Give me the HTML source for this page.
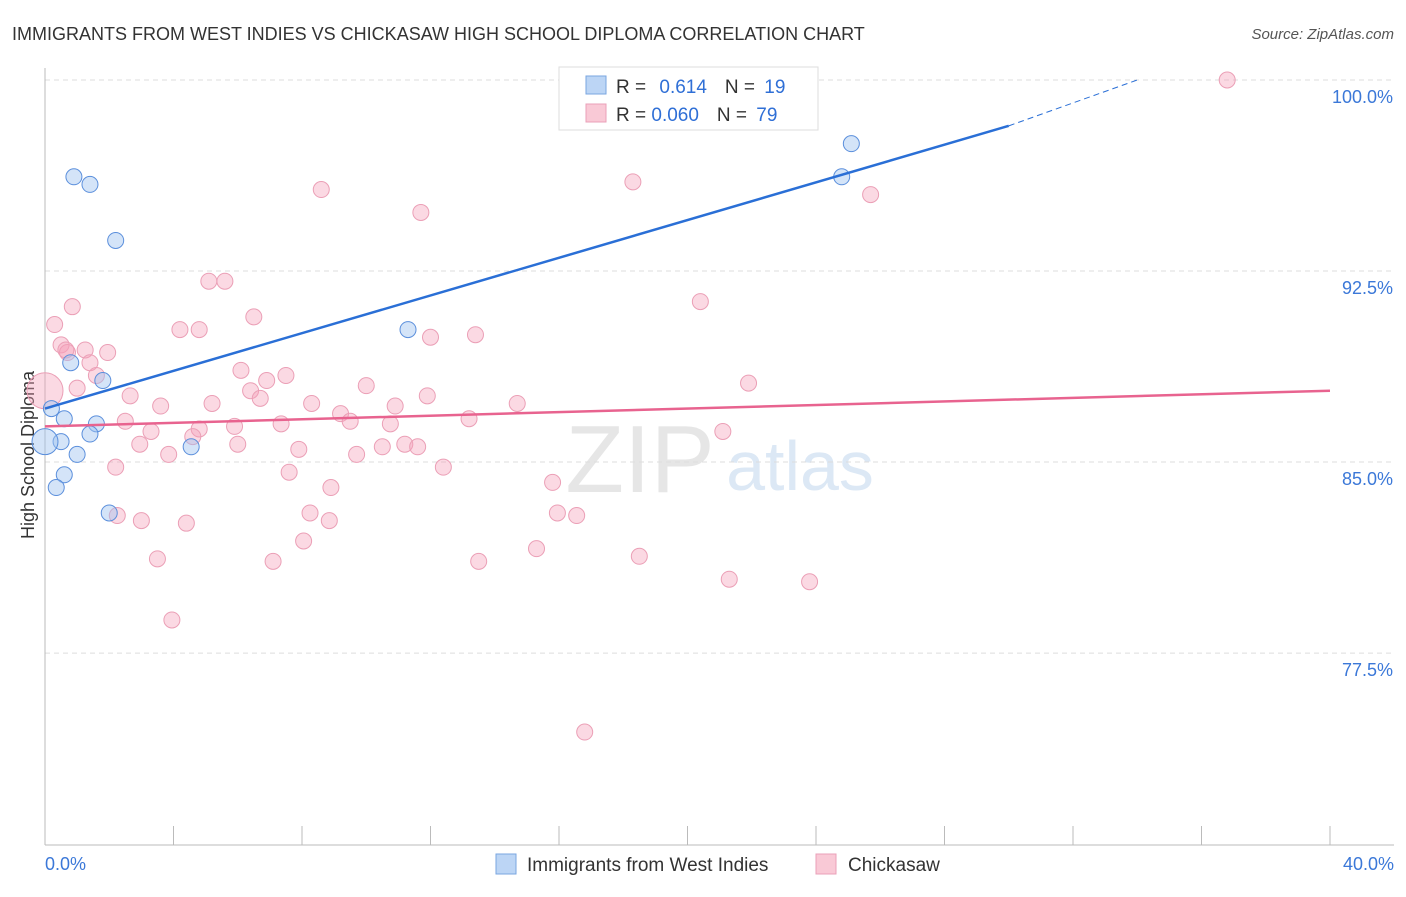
<!DOCTYPE html>
<html><head><meta charset="utf-8"><style>
body{margin:0;background:#fff;font-family:"Liberation Sans",sans-serif}
svg text{font-family:"Liberation Sans",sans-serif}
</style></head><body>
<svg id="c" width="1406" height="892">
<text x="12" y="40" font-size="18" fill="#333">IMMIGRANTS FROM WEST INDIES VS CHICKASAW HIGH SCHOOL DIPLOMA CORRELATION CHART</text>
<text x="1394" y="39" font-size="15" fill="#555" font-style="italic" text-anchor="end">Source: ZipAtlas.com</text>
<text x="640" y="492" font-size="96" fill="#e6e6e6" font-family="Liberation Serif" text-anchor="middle">ZIP</text>
<text x="800" y="490" font-size="70" fill="#dce8f5" text-anchor="middle">atlas</text>
<text transform="translate(34,455) rotate(-90)" font-size="18" fill="#333" text-anchor="middle">High School Diploma</text>
<g id="grid"></g><g id="pts"></g><g id="lines"></g>
<g>
<rect x="559" y="67" width="259" height="63" fill="#fff" stroke="#ddd"/>
<rect x="586" y="76" width="20" height="18" fill="#bcd5f5" stroke="#7aa6e0"/>
<rect x="586" y="104" width="20" height="18" fill="#f9c9d6" stroke="#eaa0b8"/>
<text x="616" y="93" font-size="19" fill="#333">R = <tspan fill="#2f6fd6" dx="8">0.614</tspan><tspan dx="18" fill="#333">N = </tspan><tspan fill="#2f6fd6" dx="4">19</tspan></text>
<text x="616" y="121" font-size="19" fill="#333">R = <tspan fill="#2f6fd6">0.060</tspan><tspan dx="18" fill="#333">N = </tspan><tspan fill="#2f6fd6" dx="4">79</tspan></text>
</g>
<g>
<rect x="496" y="854" width="20" height="20" fill="#bcd5f5" stroke="#7aa6e0"/>
<text x="527" y="871" font-size="19" fill="#333">Immigrants from West Indies</text>
<rect x="816" y="854" width="20" height="20" fill="#f9c9d6" stroke="#eaa0b8"/>
<text x="848" y="871" font-size="19" fill="#333">Chickasaw</text>
</g>
</svg>
<script>
const yTicks=[100,92.5,85,77.5];
const yTickLabels=["100.0%","92.5%","85.0%","77.5%"];
const blueX=[0.9,1.4,2.2,0.8,1.8,0.2,0.6,1.6,1.4,0.5,0.0,1.0,0.6,0.35,2.0,4.55,11.3,24.8,25.1];
const blueY=[96.2,95.9,93.7,88.9,88.2,87.1,86.7,86.5,86.1,85.8,85.8,85.3,84.5,84.0,83.0,85.6,90.2,96.2,97.5];
const pinkX=[36.8,8.6,11.7,18.3,25.7,5.1,5.6,0.85,0.3,6.5,4.2,4.8,20.4,12.0,13.4,0.5,1.25,0.7,1.95,1.4,6.1,1.6,7.5,6.9,1.0,6.4,10.0,11.9,2.65,21.9,6.7,5.2,3.6,8.3,10.9,14.7,2.5,7.35,9.2,9.5,13.2,5.9,10.75,3.3,4.8,4.6,21.1,2.95,6.0,7.9,10.5,11.2,11.6,3.85,9.7,2.2,12.4,7.6,8.9,15.8,2.25,3.0,8.25,15.95,16.55,4.4,8.85,8.05,15.3,3.5,7.1,13.5,18.5,21.3,23.8,3.95,16.8,0.0,0.65];
const pinkY=[100,95.7,94.8,96.0,95.5,92.1,92.1,91.1,90.4,90.7,90.2,90.2,91.3,89.9,90.0,89.6,89.4,89.3,89.3,88.9,88.6,88.4,88.4,88.2,87.9,87.8,88.0,87.6,87.6,88.1,87.5,87.3,87.2,87.3,87.2,87.3,86.6,86.5,86.9,86.6,86.7,86.4,86.5,86.2,86.3,86.0,86.2,85.7,85.7,85.5,85.6,85.7,85.6,85.3,85.3,84.8,84.8,84.6,84.0,84.2,82.9,82.7,83.0,83.0,82.9,82.6,82.7,81.9,81.6,81.2,81.1,81.1,81.3,80.4,80.3,78.8,74.4,87.8,89.4];
const blueLine=[0,87.1,30,98.2,34,100];
const pinkLine=[0,86.4,40,87.8];
const X=v=>45+v*32.125, Y=v=>80+(100-v)*25.47;
const NS="http://www.w3.org/2000/svg";
function mk(t,a,p){const e=document.createElementNS(NS,t);for(const k in a)e.setAttribute(k,a[k]);p.appendChild(e);return e;}
const g=document.getElementById('grid'),pts=document.getElementById('pts'),ln=document.getElementById('lines');
yTicks.forEach((v,i)=>{
 const l=mk('line',{x1:45,x2:1394,y1:Y(v),y2:Y(v),stroke:'#ddd','stroke-dasharray':'5,4'},g);
 
 
 const t=mk('text',{x:1393,y:Y(v)+23,'font-size':18,fill:'#3b78d8','text-anchor':'end'},g);t.textContent=yTickLabels[i];
 
 
});
mk('line',{x1:45,x2:45,y1:68,y2:845,stroke:'#bbb'},g);
mk('line',{x1:45,x2:1394,y1:845,y2:845,stroke:'#bbb'},g);
for(let i=0;i<=10;i++){mk('line',{x1:X(i*4),x2:X(i*4),y1:826,y2:845,stroke:'#bbb'},g);}
let t=mk('text',{x:45,y:870,'font-size':18,fill:'#3b78d8'},g);t.textContent='0.0%';


t=mk('text',{x:1394,y:870,'font-size':18,fill:'#3b78d8','text-anchor':'end'},g);t.textContent='40.0%';


pinkX.forEach((v,i)=>{const r=(i==77)?18:8;
 const c=mk('circle',{cx:X(v),cy:Y(pinkY[i]),r:r,fill:'rgba(244,160,185,0.4)',stroke:'#eb9fb6','stroke-width':1},pts);
 
 });
blueX.forEach((v,i)=>{const r=(i==10)?13:8;
 const c=mk('circle',{cx:X(v),cy:Y(blueY[i]),r:r,fill:'rgba(160,195,240,0.45)',stroke:'#5b8fdc','stroke-width':1},pts);
 
 });
let l=mk('line',{x1:X(blueLine[0]),y1:Y(blueLine[1]),x2:X(blueLine[2]),y2:Y(blueLine[3]),stroke:'#2a6fd6','stroke-width':2.5},ln);


l=mk('line',{x1:X(blueLine[2]),y1:Y(blueLine[3]),x2:X(blueLine[4]),y2:Y(blueLine[5]),stroke:'#2a6fd6','stroke-width':1,'stroke-dasharray':'6,4'},ln);


l=mk('line',{x1:X(pinkLine[0]),y1:Y(pinkLine[1]),x2:X(pinkLine[2]),y2:Y(pinkLine[3]),stroke:'#e8638f','stroke-width':2.5},ln);


</script>
</body></html>
